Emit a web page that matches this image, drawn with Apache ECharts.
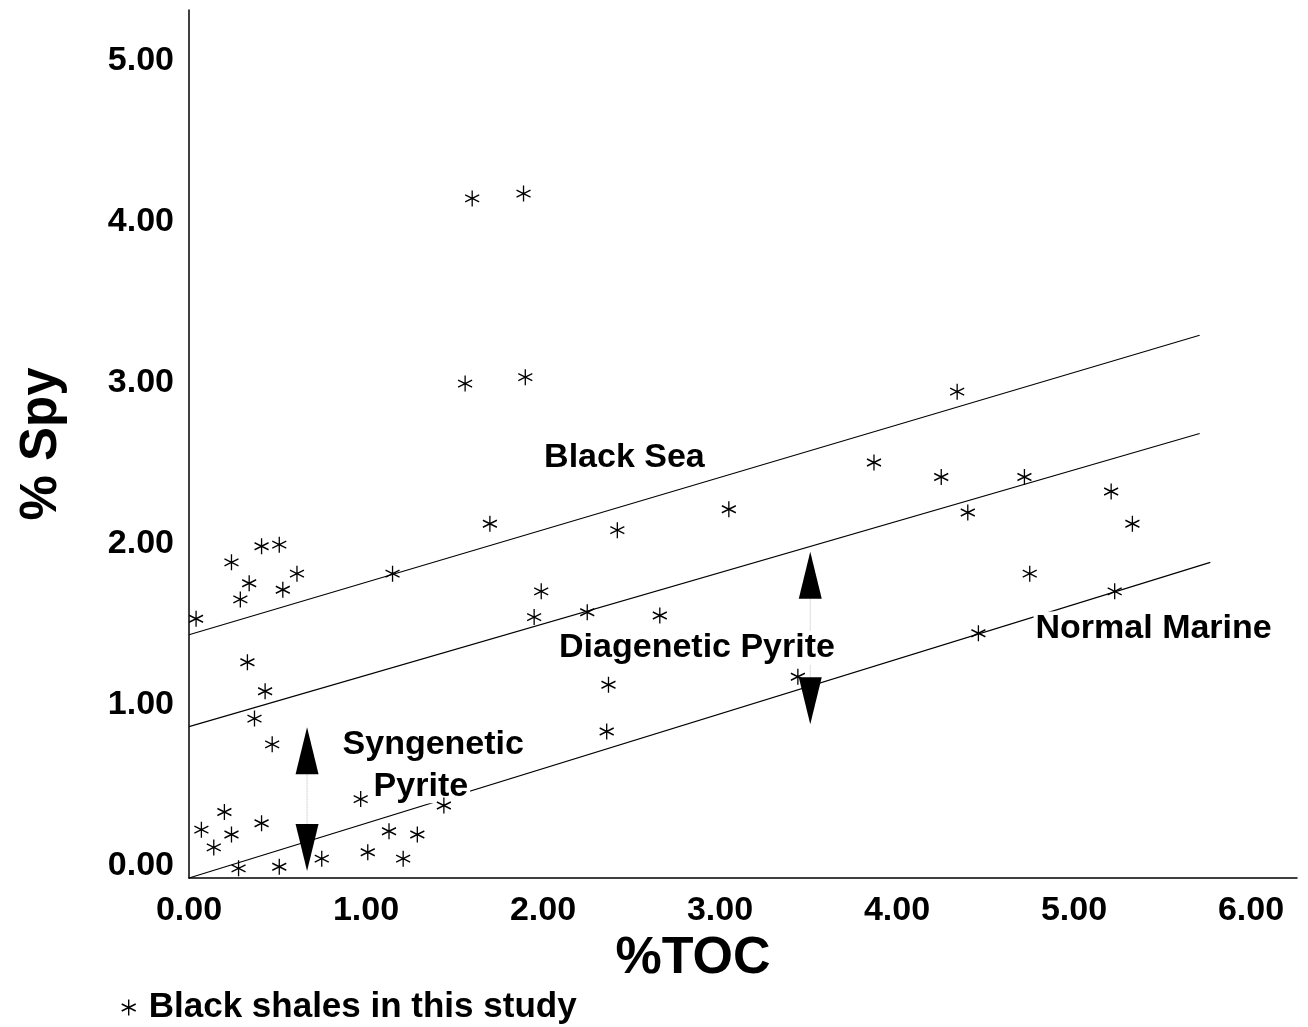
<!DOCTYPE html>
<html lang="en">
<head>
<meta charset="UTF-8">
<title>%Spy vs %TOC</title>
<style>html,body{margin:0;padding:0;background:#fff;}</style>
</head>
<body>
<div id="main" style="width:1308px;height:1027px;"></div>
<script src="https://cdn.jsdelivr.net/npm/echarts@6/dist/echarts.min.js"></script>
<script>
// black shale samples
var toc = [0.04, 0.24, 0.29, 0.34, 0.41, 0.51, 0.53, 0.61, 0.33, 0.43, 0.37, 0.47,
           1.15, 1.56, 1.60, 1.89, 1.90, 1.70, 1.99, 1.95, 2.25, 2.42, 2.66, 3.05,
           2.37, 2.36, 3.44, 3.87, 4.34, 4.25, 4.40, 4.72, 4.75, 5.21, 5.33, 5.23, 4.46,
           0.07, 0.20, 0.14, 0.24, 0.41, 0.28, 0.51, 0.75, 0.97, 1.01, 1.13, 1.21, 1.29, 1.44];
var spy = [1.61, 1.96, 1.73, 1.83, 2.06, 2.07, 1.79, 1.89, 1.34, 1.16, 0.99, 0.83,
           1.89, 3.07, 4.22, 4.25, 3.11, 2.20, 1.78, 1.62, 1.65, 2.16, 1.63, 2.29,
           1.20, 0.91, 1.25, 2.58, 3.02, 2.49, 2.27, 2.49, 1.89, 2.40, 2.20, 1.78, 1.52,
           0.30, 0.41, 0.19, 0.27, 0.34, 0.06, 0.07, 0.12, 0.49, 0.16, 0.29, 0.12, 0.27, 0.45];

// reference lines, [toc, spy] end points
var blackSeaLine = [[0, 1.51], [5.71, 3.37]];
var diageneticLine = [[0, 0.94], [5.71, 2.76]];
var normalMarineLine = [[0, 0], [5.77, 1.96]];

// arrows and their faint guides
var arrowsUp = [[0.667, 0.79], [3.51, 1.88]];
var arrowsDown = [[0.667, 0.19], [3.51, 1.10]];
var guideLeft = [[0.667, 0.65], [0.667, 0.33]];
var guideRight = [[3.51, 1.73], [3.51, 1.24]];

// field labels
var noteText = ['Black Sea', 'Diagenetic Pyrite', 'Syngenetic', 'Pyrite', 'Normal Marine'];
var noteX = [2.46, 2.87, 1.38, 1.31, 5.45];
var noteY = [2.61, 1.43, 0.83, 0.57, 1.55];

var xTicks = [0, 1, 2, 3, 4, 5, 6];
var yTicks = [0, 1, 2, 3, 4, 5];

var FONT = '"Liberation Sans", Arial, Helvetica, sans-serif';
var STAR = 'path://M7,0L7,16M0,4.5L14,11.5M0,11.5L14,4.5';

var points = toc.map(function (t, i) { return [t, spy[i]]; });
var notes = noteText.map(function (s, i) {
    return {name: s, value: [noteX[i], noteY[i]]};
});

function tickLabel(list) {
    return function (v) {
        return list.indexOf(Math.round(v * 1000) / 1000) >= 0 ? v.toFixed(2) : '';
    };
}

function refLine(d) {
    return {
        type: 'line', data: d, symbol: 'none', z: 2, silent: true,
        lineStyle: {color: '#000', width: 1.1}
    };
}
function guide(d) {
    return {
        type: 'line', data: d, symbol: 'none', z: 1, silent: true,
        lineStyle: {color: '#bbb', width: 1, type: 'dotted'}
    };
}

var option = {
    animation: false,
    backgroundColor: '#fff',
    grid: {left: 189, right: 11, top: 10, bottom: 149},
    legend: {
        left: 116, top: 985,
        itemWidth: 14, itemHeight: 16, itemGap: 0,
        icon: STAR,
        itemStyle: {color: '#000', borderColor: '#000', borderWidth: 1.4, opacity: 1},
        textStyle: {fontFamily: FONT, fontSize: 35, fontWeight: 'bold', color: '#000',
            padding: [0, 0, 0, 8]},
        data: ['Black shales in this study']
    },
    xAxis: {
        type: 'value', min: 0, max: 6.26, interval: 1,
        name: '%TOC', nameLocation: 'middle', nameGap: 50,
        nameTextStyle: {fontFamily: FONT, fontSize: 52, fontWeight: 'bold', color: '#000',
            padding: [0, 100, 0, 0]},
        axisLine: {lineStyle: {color: '#000', width: 1.5}},
        axisTick: {show: false},
        splitLine: {show: false},
        axisLabel: {
            fontFamily: FONT, fontSize: 34, fontWeight: 'bold', color: '#000', margin: 16,
            formatter: tickLabel(xTicks)
        }
    },
    yAxis: {
        type: 'value', min: 0, max: 5.39, interval: 1,
        name: '% Spy', nameLocation: 'middle', nameGap: 122,
        nameTextStyle: {fontFamily: FONT, fontSize: 51, fontWeight: 'bold', color: '#000',
            padding: [0, 0, 0, 0]},
        axisLine: {lineStyle: {color: '#000', width: 1.5}},
        axisTick: {show: false},
        splitLine: {show: false},
        axisLabel: {
            fontFamily: FONT, fontSize: 34, fontWeight: 'bold', color: '#000', margin: 15,
            verticalAlign: 'bottom', lineHeight: 24,
            formatter: tickLabel(yTicks)
        }
    },
    series: [
        refLine(blackSeaLine),
        refLine(diageneticLine),
        refLine(normalMarineLine),
        guide(guideLeft),
        guide(guideRight),
        {
            type: 'scatter', data: arrowsUp, symbol: 'triangle', symbolSize: [23, 47],
            z: 3, silent: true, itemStyle: {color: '#000', opacity: 1}
        },
        {
            type: 'scatter', data: arrowsDown, symbol: 'triangle', symbolSize: [23, 47],
            symbolRotate: 180, z: 3, silent: true, itemStyle: {color: '#000', opacity: 1}
        },
        {
            type: 'scatter', data: notes, symbolSize: 0, z: 3, silent: true,
            itemStyle: {opacity: 1},
            label: {
                show: true, position: 'inside', formatter: function (p) { return p.name; },
                fontFamily: FONT, fontSize: 34, fontWeight: 'bold', color: '#000',
                backgroundColor: '#fff', padding: [0, 2]
            }
        },
        {
            name: 'Black shales in this study',
            type: 'scatter', data: points, symbol: STAR, symbolSize: [14, 16], z: 4,
            itemStyle: {color: '#000', borderColor: '#000', borderWidth: 1.4, opacity: 1}
        }
    ]
};

var myChart = echarts.init(document.getElementById('main'));
myChart.setOption(option);
</script>
</body>
</html>
